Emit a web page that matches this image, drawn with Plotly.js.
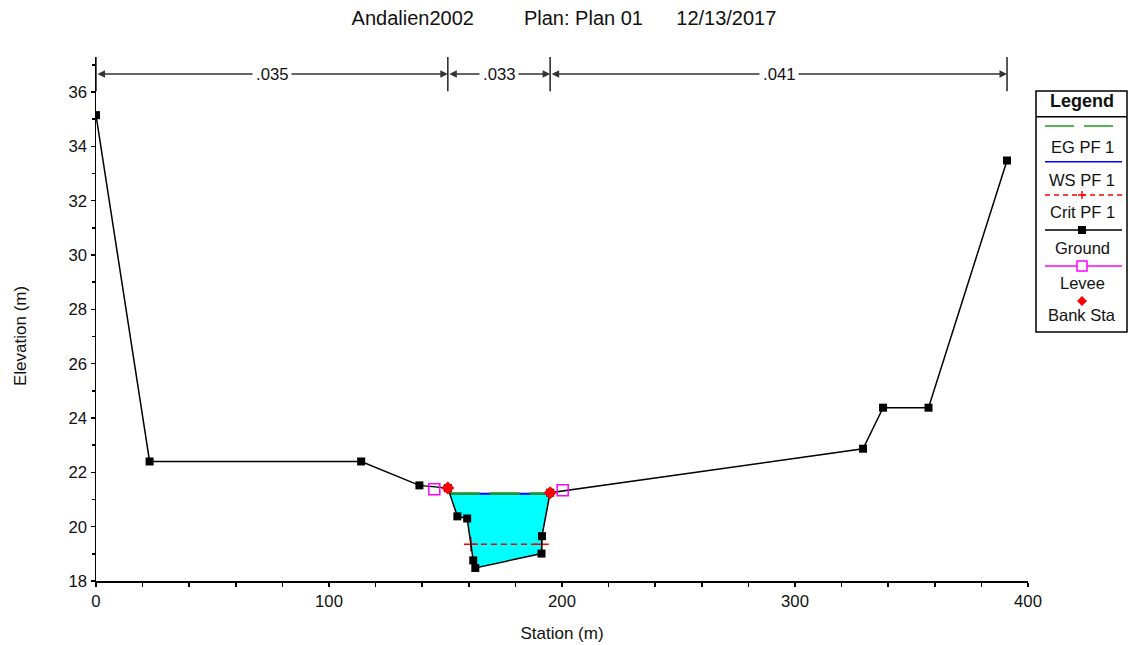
<!DOCTYPE html>
<html><head><meta charset="utf-8">
<script src="https://cdn.plot.ly/plotly-3.0.1.min.js"></script>
<style>html,body{margin:0;padding:0;background:#fff}</style>
</head><body><div id="chart" style="width:1128px;height:645px"></div>
<script>
// ---- data ----
const groundSta  = [0, 23.0, 113.8, 138.8, 151.0, 155.1, 159.3, 161.9, 162.8, 191.2, 191.4, 194.9, 329.2, 337.8, 357.3, 391.0];
const groundElev = [35.15, 22.40, 22.40, 21.52, 21.42, 20.38, 20.30, 18.76, 18.48, 19.01, 19.65, 21.25, 22.87, 24.38, 24.38, 33.48];
const bankSta = [151.0, 194.9];
const leveeSta = [145.2, 200.3];
const leveeElev = [21.38, 21.34];
const wsElev = 21.21;
const egElev = 21.22;
const critElev = 19.35;
const nValues = ['.035', '.033', '.041'];
const nLabelElev = 36.66;
const legendLabels = ['EG PF 1', 'WS PF 1', 'Crit PF 1', 'Ground', 'Levee', 'Bank Sta'];
const xTickVals = [0, 100, 200, 300, 400];
const titleParts = ['Andalien2002', 'Plan: Plan 01', '12/13/2017'];

// ---- helpers ----
const FONT = 'Liberation Sans, Arial, sans-serif';
const TXT = '#111';
const M = {l: 96, r: 100, t: 57, b: 64};
const W = 1128, H = 645;
const PW = W - M.l - M.r, PH = H - M.t - M.b;
const px = x => (x - M.l) / PW;
const py = y => (H - M.b - y) / PH;

function extent(z) {
  const iL = groundSta.indexOf(bankSta[0]);
  const iR = groundSta.indexOf(bankSta[1]);
  let xl, il, xr, ir;
  for (let i = iL; i < iR; i++) {
    const a = groundElev[i], b = groundElev[i + 1];
    if (a >= z && b < z) { xl = groundSta[i] + (a - z) / (a - b) * (groundSta[i + 1] - groundSta[i]); il = i + 1; break; }
  }
  for (let i = iR; i > iL; i--) {
    const a = groundElev[i], b = groundElev[i - 1];
    if (a >= z && b < z) { xr = groundSta[i] - (a - z) / (a - b) * (groundSta[i] - groundSta[i - 1]); ir = i - 1; break; }
  }
  return {xl, xr, il, ir};
}

const ws = extent(wsElev), eg = extent(egElev), cr = extent(critElev);
const fillX = [ws.xl].concat(groundSta.slice(ws.il, ws.ir + 1), [ws.xr]);
const fillY = [wsElev].concat(groundElev.slice(ws.il, ws.ir + 1), [wsElev]);
const bankElev = bankSta.map(s => groundElev[groundSta.indexOf(s)]);

const traces = [
  {x: fillX, y: fillY, type: 'scatter', mode: 'lines', fill: 'toself', fillcolor: '#00FFFF',
   line: {width: 0}, hoverinfo: 'skip', name: 'water'},
  {x: [ws.xl, ws.xr], y: [wsElev, wsElev], type: 'scatter', mode: 'lines',
   line: {color: '#0000FF', width: 2}, name: legendLabels[1]},
  {x: [eg.xl, eg.xr], y: [egElev, egElev], type: 'scatter', mode: 'lines',
   line: {color: '#1E9A1E', width: 2.5, dash: '30px,10px'}, name: legendLabels[0]},
  {x: [cr.xl, cr.xr], y: [critElev, critElev], type: 'scatter', mode: 'lines+markers',
   line: {color: '#FF0000', width: 1.5, dash: '6px,4px'},
   marker: {symbol: 'cross-thin-open', size: 10, color: '#FF0000', line: {color: '#FF0000', width: 1.5}}, name: legendLabels[2]},
  {x: groundSta, y: groundElev, type: 'scatter', mode: 'lines+markers',
   line: {color: '#000', width: 1.5}, marker: {symbol: 'square', size: 8, color: '#000'}, name: legendLabels[3]},
  {x: leveeSta, y: leveeElev, type: 'scatter', mode: 'markers',
   marker: {symbol: 'square-open', size: 11, color: '#FF00FF', line: {color: '#FF00FF', width: 1.5}}, name: legendLabels[4]},
  {x: bankSta, y: bankElev, type: 'scatter', mode: 'markers',
   marker: {symbol: 'diamond', size: 10, color: '#FF0000'}, name: legendLabels[5]}
];

// ---- Manning n arrows ----
const edges = [groundSta[0], bankSta[0], bankSta[1], groundSta[groundSta.length - 1]];
const shapes = [];
const annotations = [];
edges.forEach(e => shapes.push({type: 'line', xref: 'x', yref: 'y', x0: e, x1: e, y0: 36.03, y1: 37.29,
  line: {color: '#222', width: 1.5}}));
for (let i = 0; i < nValues.length; i++) {
  annotations.push({xref: 'x', yref: 'y', axref: 'x', ayref: 'y', x: edges[i + 1], y: nLabelElev,
    ax: edges[i], ay: nLabelElev, text: '', showarrow: true, arrowside: 'end+start', arrowhead: 2,
    arrowsize: 1, arrowwidth: 1.5, arrowcolor: '#333', standoff: 0, startstandoff: 0});
  annotations.push({xref: 'x', yref: 'y', x: (edges[i] + edges[i + 1]) / 2, y: nLabelElev, text: nValues[i],
    showarrow: false, bgcolor: '#fff', borderpad: 3, font: {family: FONT, size: 16.7, color: TXT}});
}

// ---- y axis label ----
annotations.push({xref: 'paper', yref: 'paper', x: px(20), y: py(336), text: 'Elevation (m)', textangle: -90,
  showarrow: false, xanchor: 'center', yanchor: 'middle', font: {family: FONT, size: 17, color: TXT}});

// ---- custom legend ----
const LX0 = 1036, LX1 = 1127, LC = 1082;
shapes.push({type: 'rect', xref: 'paper', yref: 'paper', x0: px(LX0), x1: px(LX1), y0: py(332), y1: py(91),
  line: {color: '#000', width: 1.5}, fillcolor: 'rgba(0,0,0,0)'});
shapes.push({type: 'line', xref: 'paper', yref: 'paper', x0: px(LX0), x1: px(LX1), y0: py(116.7), y1: py(116.7),
  line: {color: '#000', width: 1.5}});
annotations.push({xref: 'paper', yref: 'paper', x: px(LC), y: py(101), text: '<b>Legend</b>', showarrow: false,
  xanchor: 'center', yanchor: 'middle', font: {family: FONT, size: 18, color: TXT}});
const lineY = [126, 161.7, 195, 230, 266, 301];
const textY = [146.7, 180, 211.7, 248.3, 283.3, 315];
const legLine = [
  {color: '#1E9A1E', dash: '29px,10px', x0: 1045, x1: 1113},
  {color: '#0000FF', dash: 'solid', x0: 1045, x1: 1122},
  {color: '#FF0000', dash: '5px,4px', x0: 1045, x1: 1122},
  {color: '#000', dash: 'solid', x0: 1045, x1: 1122},
  {color: '#FF00FF', dash: 'solid', x0: 1045, x1: 1122},
  null
];
legendLabels.forEach((lab, i) => {
  const l = legLine[i];
  if (l) shapes.push({type: 'line', xref: 'paper', yref: 'paper', x0: px(l.x0), x1: px(l.x1),
    y0: py(lineY[i]), y1: py(lineY[i]), line: {color: l.color, width: 1.5, dash: l.dash}});
  annotations.push({xref: 'paper', yref: 'paper', x: px(LC), y: py(textY[i]), text: lab, showarrow: false,
    xanchor: 'center', yanchor: 'middle', font: {family: FONT, size: 16.5, color: TXT}});
});
const pix = (xc, yc, o) => Object.assign({xref: 'paper', yref: 'paper', xsizemode: 'pixel', ysizemode: 'pixel',
  xanchor: px(xc), yanchor: py(yc)}, o);
// crit "+"
shapes.push(pix(LC, lineY[2], {type: 'line', x0: -4, x1: 4, y0: 0, y1: 0, line: {color: '#FF0000', width: 1.5}}));
shapes.push(pix(LC, lineY[2], {type: 'line', x0: 0, x1: 0, y0: -4, y1: 4, line: {color: '#FF0000', width: 1.5}}));
// ground square
shapes.push(pix(LC, lineY[3], {type: 'rect', x0: -4, x1: 4, y0: -4, y1: 4, fillcolor: '#000', line: {width: 0}}));
// levee open square
shapes.push(pix(LC, lineY[4], {type: 'rect', x0: -5, x1: 5, y0: -5, y1: 5, fillcolor: '#fff', line: {color: '#FF00FF', width: 1.5}}));
// bank diamond
shapes.push(pix(LC, lineY[5], {type: 'path', path: 'M0,5 L5,0 L0,-5 L-5,0 Z', fillcolor: '#FF0000', line: {width: 0}}));

const nb = '\u00A0';
const layout = {
  width: W, height: H, margin: M, paper_bgcolor: '#fff', plot_bgcolor: '#fff', showlegend: false,
  title: {text: titleParts[0] + nb.repeat(9) + titleParts[1] + nb.repeat(6) + titleParts[2],
    font: {family: FONT, size: 20, color: TXT}, xref: 'paper', x: px(564), xanchor: 'center',
    yref: 'container', y: 1 - 18 / H, yanchor: 'middle'},
  xaxis: {range: [0, 400], tickvals: xTickVals, ticks: 'outside', ticklen: 4, tickwidth: 1.5, tickcolor: '#000',
    showline: true, linecolor: '#000', linewidth: 1.5, showgrid: false, zeroline: false,
    minor: {dtick: 20, tick0: 0, ticks: 'outside', ticklen: 4, tickwidth: 1.5, tickcolor: '#000', showgrid: false},
    tickfont: {family: FONT, size: 16.7, color: TXT},
    title: {text: 'Station (m)', font: {family: FONT, size: 17, color: TXT}, standoff: 17}},
  yaxis: {range: [18, 37.29], dtick: 2, tick0: 18, ticks: 'outside', ticklen: 4, tickwidth: 1.5, tickcolor: '#000',
    showline: true, linecolor: '#000', linewidth: 1.5, showgrid: false, zeroline: false,
    minor: {dtick: 1, ticks: 'outside', ticklen: 3, tickwidth: 1.5, tickcolor: '#000', showgrid: false},
    tickfont: {family: FONT, size: 16.7, color: TXT}},
  shapes: shapes,
  annotations: annotations
};

Plotly.newPlot('chart', traces, layout, {displayModeBar: false, staticPlot: true});
</script>
</body></html>
